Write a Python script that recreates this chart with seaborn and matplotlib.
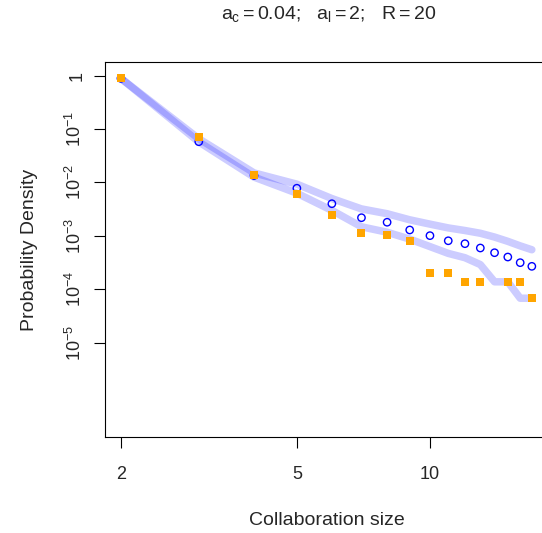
import matplotlib
matplotlib.use('Agg')
import matplotlib.pyplot as plt
import pandas as pd
import seaborn as sns

# collaboration sizes
sizes = [2, 3, 4, 5, 6, 7, 8, 9, 10, 11, 12, 13, 14, 15, 16, 17]

# model prediction (open circles)
model_density = [0.89, 0.058, 0.0135, 0.0078, 0.0040, 0.00219, 0.0018, 0.00129,
                 0.00101, 0.00081, 0.000714, 0.000593, 0.000484, 0.000402,
                 0.000315, 0.000269]

# envelope of the simulations (thick light blue lines)
upper_density = [0.89, 0.066, 0.0151, 0.0093, 0.0050, 0.0032, 0.0026, 0.0020,
                 0.00166, 0.00141, 0.00126, 0.00112, 0.00095, 0.00079,
                 0.00065, 0.00055]
lower_density = [0.89, 0.0575, 0.0126, 0.0063, 0.0030, 0.00148, 0.00117, 0.00087,
                 0.00063, 0.00047, 0.00039, 0.00029, 0.000138, 0.000138,
                 0.000068, 0.000068]

# observed data (orange squares), no observation at size 14
data_sizes = [2, 3, 4, 5, 6, 7, 8, 9, 10, 11, 12, 13, 15, 16, 17]
data_density = [0.89, 0.070, 0.0136, 0.0061, 0.00246, 0.00113, 0.00104, 0.0008,
                0.000202, 0.000202, 0.000137, 0.000137, 0.000137, 0.000137,
                0.000068]

x_ticks = [2, 5, 10]
x_tick_labels = ['2', '5', '10']
y_ticks = [1, 1e-1, 1e-2, 1e-3, 1e-4, 1e-5]
y_tick_labels = ['1', '$10^{-1}$', '$10^{-2}$', '$10^{-3}$', '$10^{-4}$', '$10^{-5}$']

sns.set_style('white')
plt.rcParams['font.family'] = ['Liberation Sans', 'DejaVu Sans']
plt.rcParams['mathtext.fontset'] = 'custom'
plt.rcParams['mathtext.rm'] = 'Liberation Sans'
plt.rcParams['mathtext.it'] = 'Liberation Sans'
plt.rcParams['mathtext.bf'] = 'Liberation Sans:bold'

band_df = pd.DataFrame({'size': sizes, 'upper': upper_density, 'lower': lower_density})
model_df = pd.DataFrame({'size': sizes, 'density': model_density})
data_df = pd.DataFrame({'size': data_sizes, 'density': data_density})

fig = plt.figure(figsize=(5.42, 5.33), dpi=100)
ax = fig.add_axes([0.1932, 0.1807, 0.818, 0.7024])
ax.set_xscale('log')
ax.set_yscale('log')

# envelope lines
for col in ['upper', 'lower']:
    sns.lineplot(data=band_df, x='size', y=col, ax=ax, color='blue', alpha=0.2,
                 linewidth=5.4, solid_capstyle='round', solid_joinstyle='round')

# model and data points
sns.scatterplot(data=model_df, x='size', y='density', ax=ax, marker='o', s=28,
                facecolor='none', edgecolor='blue', linewidth=1.0, zorder=3)
sns.scatterplot(data=data_df, x='size', y='density', ax=ax, marker='s', s=40,
                color='orange', linewidth=0, zorder=4)

ax.set_xlim(1.838, 18.5)
ax.set_ylim(10 ** -6.76, 10 ** 0.25)

ax.set_xticks(x_ticks)
ax.set_xticklabels(x_tick_labels)
ax.set_yticks(y_ticks)
ax.set_yticklabels(y_tick_labels, rotation=90, va='center')
ax.minorticks_off()
ax.tick_params(axis='both', direction='out', length=8, width=0.8, color='black',
               labelsize=13, bottom=True, left=True)
ax.tick_params(axis='x', pad=13)
ax.tick_params(axis='y', pad=6)

for sp in ax.spines.values():
    sp.set_color('black')
    sp.set_linewidth(0.8)

ax.set_xlabel('Collaboration size', fontsize=14)
ax.set_ylabel('Probability Density', fontsize=14)
ax.xaxis.set_label_coords(0.5, -0.2)
ax.yaxis.set_label_coords(-0.15, 0.5)

fig.text(329 / 542, 1 - 14 / 533, r'$a_c = 0.04$;   $a_l = 2$;   $R = 20$',
         ha='center', va='center', fontsize=14)

fig.savefig('out.png', dpi=100)
